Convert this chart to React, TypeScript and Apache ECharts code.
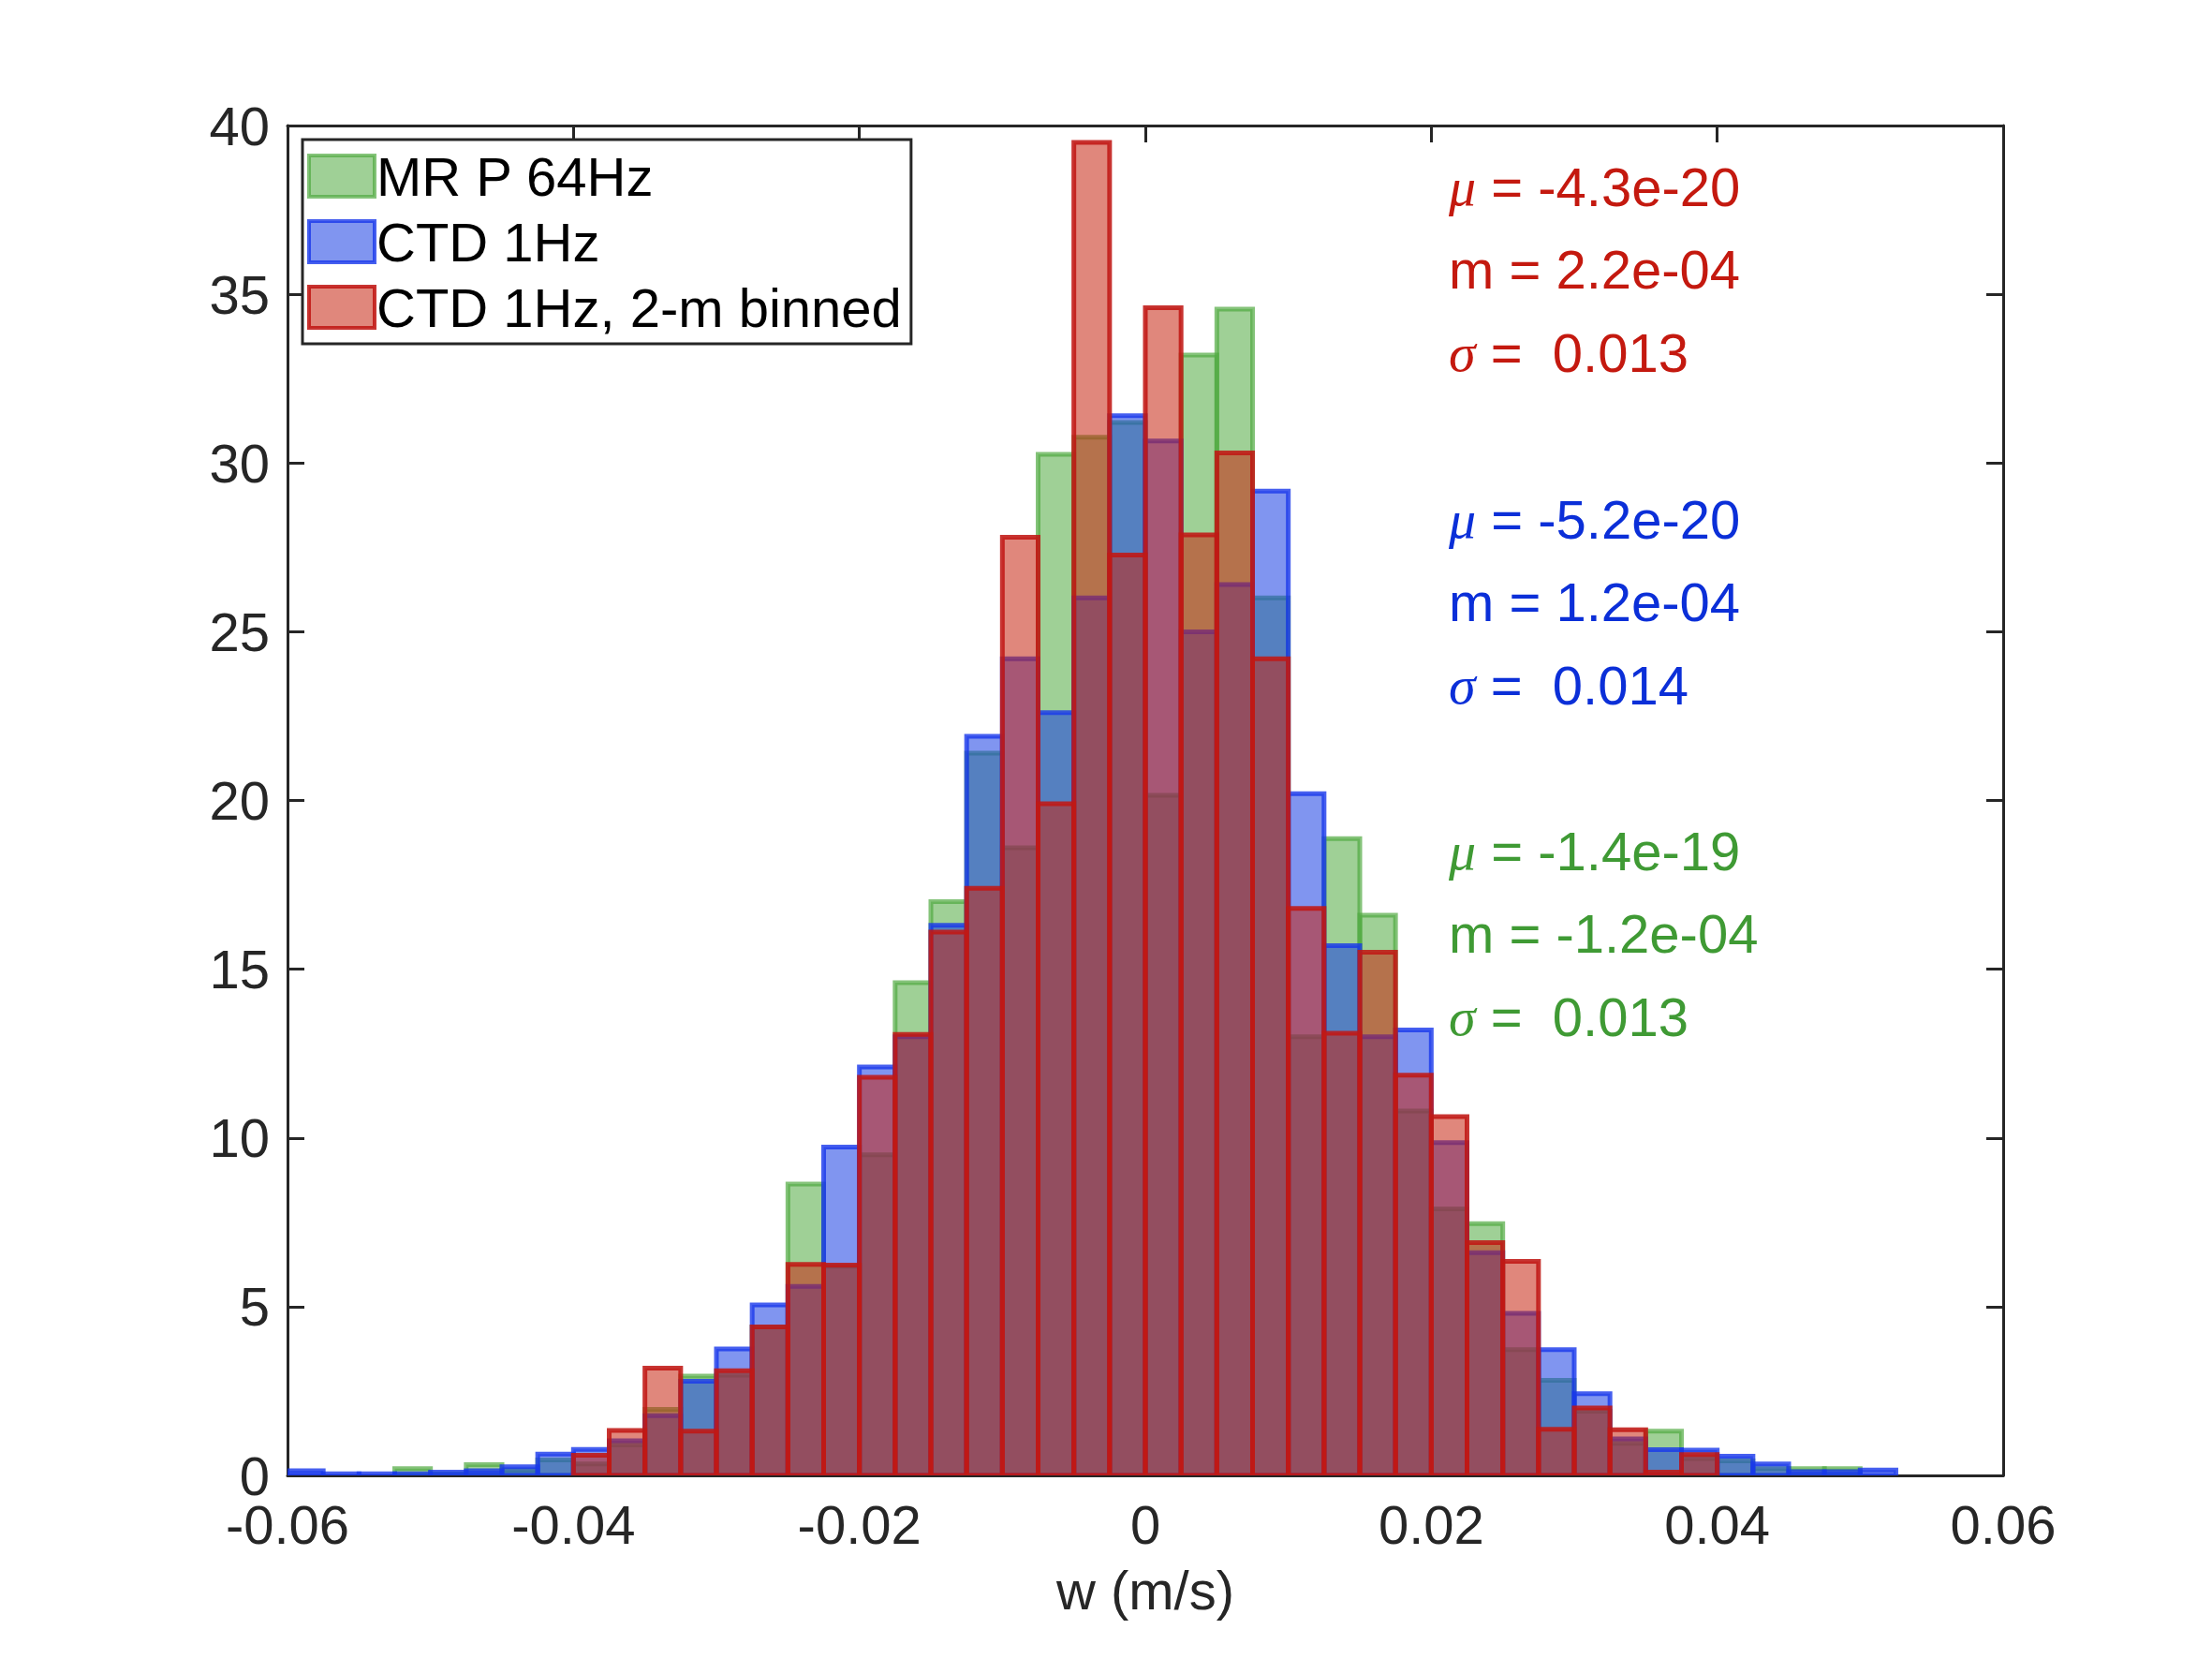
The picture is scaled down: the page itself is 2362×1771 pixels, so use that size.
import React, { useEffect, useRef } from "react";
import * as echarts from "echarts";

// Left edges of the histogram bins (m/s); every bin is binWidth wide.
const binLeftEdges = [
  -0.06, -0.0575, -0.055, -0.0525, -0.05, -0.0475, -0.045, -0.0425, -0.04, -0.0375,
  -0.035, -0.0325, -0.03, -0.0275, -0.025, -0.0225, -0.02, -0.0175, -0.015, -0.0125,
  -0.01, -0.0075, -0.005, -0.0025, 0, 0.0025, 0.005, 0.0075, 0.01, 0.0125,
  0.015, 0.0175, 0.02, 0.0225, 0.025, 0.0275, 0.03, 0.0325, 0.035, 0.0375,
  0.04, 0.0425, 0.045, 0.0475, 0.05,
];
const binWidth = 0.0025;

// PDF-normalised counts per bin
const mrP64Hz = [
  0, 0, 0, 0.2, 0.05, 0.32, 0.15, 0.46, 0.34, 0.9,
  1.96, 2.94, 2.97, 4.4, 8.63, 6.2, 9.5, 14.6, 17.0, 21.4,
  18.6, 30.26, 30.76, 31.2, 20.15, 33.2, 34.56, 26.0, 13.0, 18.87,
  16.6, 10.8, 7.9, 7.46, 3.73, 2.82, 1.9, 0.95, 1.31, 0.5,
  0.43, 0.2, 0.2, 0.2, 0,
];
const ctd1Hz = [
  0.14, 0.05, 0.05, 0.05, 0.1, 0.14, 0.26, 0.63, 0.77, 1.03,
  1.77, 2.79, 3.75, 5.05, 5.6, 9.73, 12.1, 13.0, 16.3, 21.9,
  24.2, 22.6, 26.0, 31.4, 30.65, 25.0, 26.4, 29.17, 20.2, 15.7,
  13.0, 13.2, 9.86, 6.6, 4.8, 3.73, 2.42, 1.08, 0.76, 0.75,
  0.57, 0.34, 0.11, 0.11, 0.16,
];
const ctd1HzBinned = [
  0, 0, 0, 0, 0, 0, 0, 0, 0.6, 1.33,
  3.18, 1.31, 3.1, 4.4, 6.25, 6.23, 11.8, 13.07, 16.1, 17.4,
  27.8, 19.9, 39.5, 27.27, 34.6, 27.87, 30.3, 24.2, 16.8, 13.1,
  15.5, 11.86, 10.63, 6.9, 6.34, 1.37, 2.0, 1.35, 0.1, 0.62,
  0, 0, 0, 0, 0,
];

const seriesNames = ["MR P 64Hz", "CTD 1Hz", "CTD 1Hz, 2-m binned"];

// Statistics annotations: [mu, m, sigma]
const statsBinned = ["-4.3e-20", "2.2e-04", "0.013"];
const stats1Hz = ["-5.2e-20", "1.2e-04", "0.014"];
const stats64Hz = ["-1.4e-19", "-1.2e-04", "0.013"];

const FONT = "'Liberation Sans', Arial, Helvetica, sans-serif";
const AXIS_COLOR = "#262626";

const styles = [
  { fill: "rgba(80,170,64,0.55)", stroke: "rgba(80,170,64,0.7)", text: "#3f9a34" },
  { fill: "rgba(24,62,228,0.55)", stroke: "rgba(24,55,235,0.8)", text: "#0b2fd8" },
  { fill: "rgba(199,37,17,0.55)", stroke: "rgba(192,24,20,0.88)", text: "#c4190f" },
];

function toData(values: number[]) {
  const out: number[][] = [];
  values.forEach((v, i) => {
    if (v > 0) out.push([binLeftEdges[i], binLeftEdges[i] + binWidth, v]);
  });
  return out;
}

function makeSeries(name: string, values: number[], st: { fill: string; stroke: string }) {
  return {
    type: "custom",
    name,
    clip: true,
    encode: { x: [0, 1], y: 2 },
    data: toData(values),
    itemStyle: { color: st.fill, borderColor: st.stroke },
    renderItem: (params: any, api: any) => {
      const x0 = api.value(0);
      const x1 = api.value(1);
      const h = api.value(2);
      const p0 = api.coord([x0, 0]);
      const p1 = api.coord([x1, h]);
      return {
        type: "rect",
        shape: { x: p0[0], y: p1[1], width: p1[0] - p0[0], height: p0[1] - p1[1] },
        style: { fill: st.fill, stroke: st.stroke, lineWidth: 5 },
      };
    },
  };
}

function statTexts(vals: string[], color: string, yCenter: number) {
  const lines = [`{s|μ} = ${vals[0]}`, `m = ${vals[1]}`, `{s|σ} =  ${vals[2]}`];
  return lines.map((t, i) => ({
    type: "text",
    left: 1547,
    top: yCenter + i * 88.7 - 33,
    style: {
      text: t,
      fill: color,
      font: `58px ${FONT}`,
      rich: {
        s: { fontFamily: "'Liberation Serif', 'DejaVu Serif', serif", fontStyle: "italic", fontSize: 58, fill: color },
      },
    },
  }));
}

export default function App() {
  const ref = useRef<HTMLDivElement>(null);
  useEffect(() => {
    if (!ref.current) return;
    const chart = echarts.init(ref.current, undefined, { renderer: "svg" });
    const tickLabel = (v: number) => String(Math.round(v * 100) / 100);
    const option: any = {
      animation: false,
      backgroundColor: "#ffffff",
      grid: { left: 307, top: 134, width: 1832, height: 1441 },
      xAxis: [
        {
          type: "value",
          min: -0.06,
          max: 0.06,
          interval: 0.02,
          position: "bottom",
          name: "w (m/s)",
          nameLocation: "middle",
          nameGap: 93,
          nameTextStyle: { fontSize: 58, fontFamily: FONT, color: AXIS_COLOR },
          axisLine: { show: true, onZero: false, lineStyle: { color: AXIS_COLOR, width: 3 } },
          axisTick: { show: true, inside: true, length: 18, lineStyle: { color: AXIS_COLOR, width: 3 } },
          axisLabel: { fontSize: 58, lineHeight: 50, fontFamily: FONT, color: AXIS_COLOR, margin: 27, formatter: tickLabel },
          splitLine: { show: false },
        },
        {
          type: "value",
          min: -0.06,
          max: 0.06,
          interval: 0.02,
          position: "top",
          axisLine: { show: true, onZero: false, lineStyle: { color: AXIS_COLOR, width: 3 } },
          axisTick: { show: true, inside: true, length: 18, lineStyle: { color: AXIS_COLOR, width: 3 } },
          axisLabel: { show: false },
          splitLine: { show: false },
        },
      ],
      yAxis: [
        {
          type: "value",
          min: 0,
          max: 40,
          interval: 5,
          position: "left",
          axisLine: { show: true, onZero: false, lineStyle: { color: AXIS_COLOR, width: 3 } },
          axisTick: { show: true, inside: true, length: 18, lineStyle: { color: AXIS_COLOR, width: 3 } },
          axisLabel: { fontSize: 58, lineHeight: 50, fontFamily: FONT, color: AXIS_COLOR, margin: 19 },
          splitLine: { show: false },
        },
        {
          type: "value",
          min: 0,
          max: 40,
          interval: 5,
          position: "right",
          axisLine: { show: true, onZero: false, lineStyle: { color: AXIS_COLOR, width: 3 } },
          axisTick: { show: true, inside: true, length: 18, lineStyle: { color: AXIS_COLOR, width: 3 } },
          axisLabel: { show: false },
          splitLine: { show: false },
        },
      ],
      legend: {
        orient: "vertical",
        left: 323,
        top: 149,
        itemWidth: 70,
        itemHeight: 44,
        itemGap: 12,
        padding: [10, 10, 10, 5],
        borderColor: AXIS_COLOR,
        borderWidth: 3,
        backgroundColor: "#ffffff",
        selectedMode: false,
        textStyle: { fontSize: 58, fontFamily: FONT, color: "#000000", padding: [0, 0, 0, -3] },
        data: seriesNames.map((n, i) => ({
          name: n,
          icon: "rect",
          itemStyle: { color: styles[i].fill, borderColor: styles[i].stroke, borderWidth: 4 },
        })),
      },
      series: [
        makeSeries(seriesNames[0], mrP64Hz, styles[0]),
        makeSeries(seriesNames[1], ctd1Hz, styles[1]),
        makeSeries(seriesNames[2], ctd1HzBinned, styles[2]),
      ],
      graphic: [
        ...statTexts(statsBinned, styles[2].text, 203),
        ...statTexts(stats1Hz, styles[1].text, 558),
        ...statTexts(stats64Hz, styles[0].text, 912),
      ],
    };
    chart.setOption(option);
    return () => chart.dispose();
  }, []);
  return (
    <div
      ref={ref}
      style={{ position: "fixed", left: 0, top: 0, width: 2362, height: 1771, background: "#ffffff" }}
    />
  );
}
